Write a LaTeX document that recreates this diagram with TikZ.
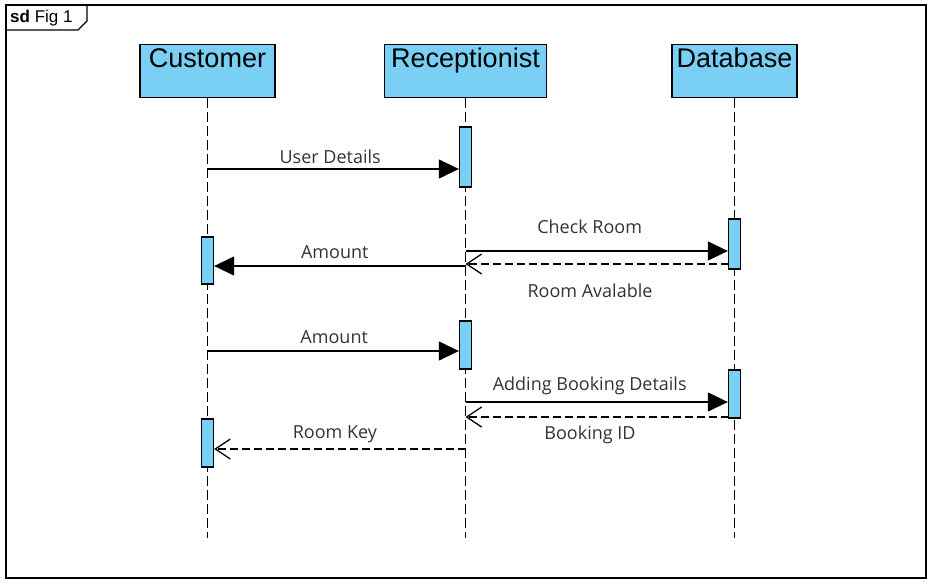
\documentclass[tikz,border=0pt]{standalone}
\usepackage{fontspec}
\setmainfont{Liberation Sans}
\newfontfamily\msgfont{Open Sans}
\usetikzlibrary{arrows.meta}
\definecolor{lifeblue}{RGB}{121,207,244}
\definecolor{msggray}{RGB}{51,51,51}

\begin{document}
\begin{tikzpicture}[x=1pt, y=-1pt,
		head/.style={draw, line width=1.4pt, fill=lifeblue, anchor=north, inner xsep=0pt, inner ysep=0pt, text height=23pt, text depth=30pt, font=\fontsize{27}{29}\selectfont},
		bar/.style={draw, line width=1.3pt, fill=lifeblue, minimum width=12pt, inner sep=0pt},
		lifeline/.style={line width=1.5pt, dash pattern={on 10pt off 4pt}},
		call/.style={line width=1.3pt, -{Triangle[length=20pt, width=19pt]}},
		reply/.style={line width=1.3pt, dash pattern={on 8pt off 4pt}, -{Straight Barb[length=15pt, width=20pt]}},
		msg/.style={text=msggray, inner sep=0pt, yshift=-1.5pt, font=\msgfont\fontsize{18}{20}\selectfont}]
			\useasboundingbox (0, 0) rectangle (933, 584);
			% frame and tab
			\draw[line width=1.5pt] (6, 5) rectangle (926, 578);
			\draw[line width=1.2pt] (6, 30) -- (78, 30) -- (87, 21) -- (87, 5);
			\node[anchor=west, inner sep=0pt, font=\fontsize{17}{19}\selectfont] (tab) at (10, 18){\textbf{sd} Fig 1};
			% lifelines
			\node[head, minimum width=135pt] (cust) at (207.5, 44){Customer};
			\node[head, minimum width=162pt] (rec) at (465.5, 44){Receptionist};
			\node[head, minimum width=125pt] (db) at (734.5, 44){Database};
			\coordinate (custEnd) at (207.5, 538);
			\coordinate (recEnd) at (465.5, 538);
			\coordinate (dbEnd) at (734.5, 538);
			\draw[lifeline] (cust.south) -- (custEnd);
			\draw[lifeline] (rec.south) -- (recEnd);
			\draw[lifeline] (db.south) -- (dbEnd);
			% activations
			\node[bar, minimum height=60pt] (recA) at (465.5, 157){};
			\node[bar, minimum height=50pt] (dbA) at (734.5, 244){};
			\node[bar, minimum height=47pt] (custA) at (207.5, 260.5){};
			\node[bar, minimum height=48pt] (recB) at (465.5, 345){};
			\node[bar, minimum height=48pt] (dbB) at (734.5, 394){};
			\node[bar, minimum height=48pt] (custB) at (207.5, 443){};
			% messages
			\coordinate (m1) at (207.5, 169);
			\coordinate (m2) at (465.5, 251);
			\coordinate (m3) at (728.5, 264);
			\coordinate (m4) at (465.5, 266);
			\coordinate (m5) at (207.5, 351);
			\coordinate (m6) at (465.5, 402);
			\coordinate (m7) at (728.5, 417);
			\coordinate (m8) at (465.5, 449);
			\draw[call] (m1) -- (recA.west |- m1) node[msg, midway, xshift=-3pt, yshift=14pt]{User Details};
			\draw[call] (m2) -- (dbA.west |- m2) node[msg, midway, xshift=-7pt, yshift=26pt]{Check Room};
			\draw[reply] (m3) -- (rec.south |- m3) node[msg, midway, xshift=-7pt, yshift=-25pt]{Room Avalable};
			\draw[call] (m4) -- (custA.east |- m4) node[msg, midway, xshift=-5pt, yshift=15pt]{Amount};
			\draw[call] (m5) -- (recB.west |- m5) node[msg, midway, xshift=1pt, yshift=15pt]{Amount};
			\draw[call] (m6) -- (dbB.west |- m6) node[msg, midway, xshift=-7pt, yshift=18pt]{Adding Booking Details};
			\draw[reply] (m7) -- (rec.south |- m7) node[msg, midway, xshift=-7pt, yshift=-16pt]{Booking ID};
			\draw[reply] (m8) -- (custB.east |- m8) node[msg, midway, xshift=-5pt, yshift=16pt]{Room Key};
		\end{tikzpicture}
\end{document}
